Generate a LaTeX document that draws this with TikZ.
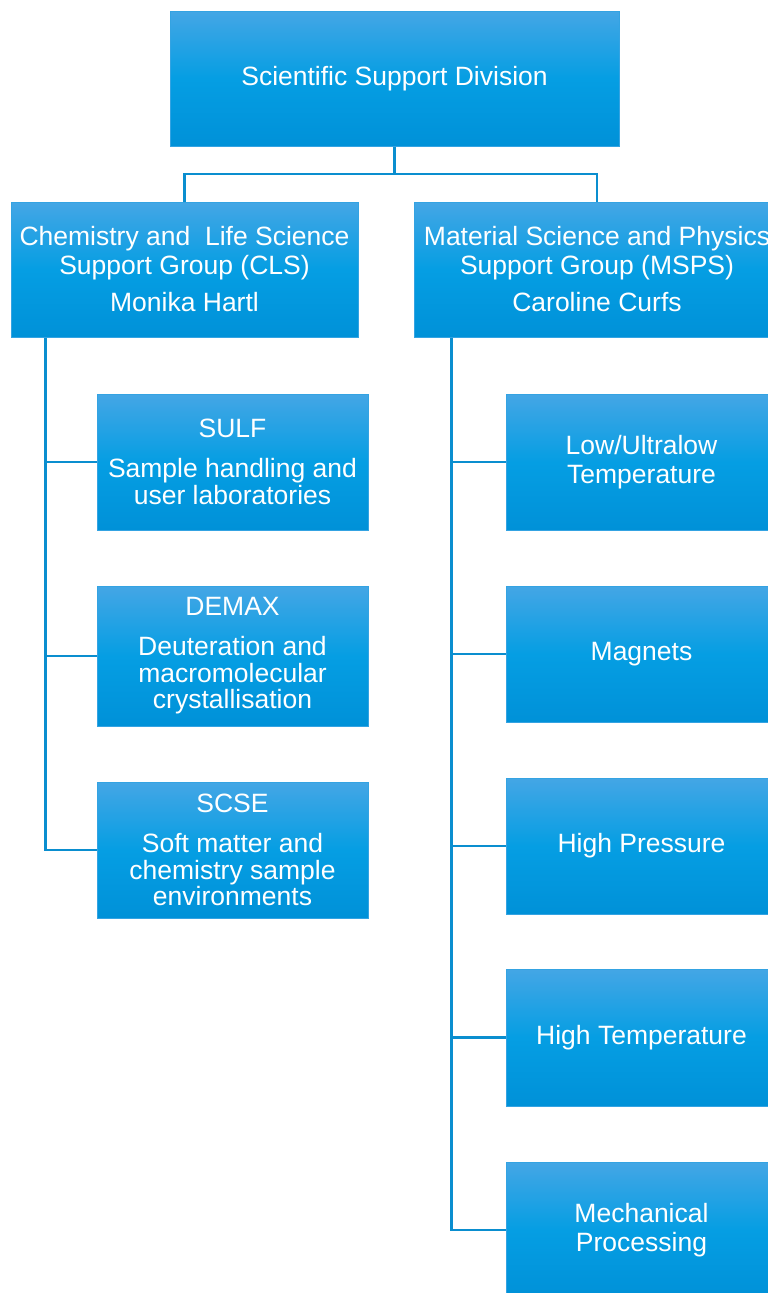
\documentclass[tikz,border=0pt]{standalone}
\usepackage{fontspec}
\setmainfont{Liberation Sans}
\usetikzlibrary{positioning}
\definecolor{boxtop}{RGB}{68,166,229}
\definecolor{boxmid}{RGB}{5,158,227}
\definecolor{boxbot}{RGB}{0,145,216}
\definecolor{boxline}{RGB}{52,163,226}
\definecolor{linkblue}{RGB}{10,142,207}

\begin{document}
\begin{tikzpicture}[x=1pt,y=-1pt,
  unitbox/.style={draw=boxline,line width=1pt,top color=boxtop,bottom color=boxbot,middle color=boxmid,
    text=white,font=\fontsize{26.5}{29}\selectfont,align=center,inner sep=0pt,minimum height=135pt},
  link/.style={draw=linkblue,line width=2.5pt}]
\path[use as bounding box,clip] (0,0) rectangle (768,1293);
\node[unitbox,minimum width=449pt] (ssd) at (394.5,78.5) {Scientific Support Division};
\node[unitbox,minimum width=347pt] (cls) at (184.5,269.5) {Chemistry and\ \ Life Science\\Support Group (CLS)\\[8pt]Monika Hartl};
\node[unitbox,minimum width=366pt] (msps) at (597,269.5) {Material Science and Physics\\Support Group (MSPS)\\[8pt]Caroline Curfs};
\node[unitbox,minimum width=271pt,minimum height=136pt] (sulf) at (232.5,462) {SULF\\[11pt]Sample handling and\\[-2.5pt]user laboratories};
\node[unitbox,minimum width=271pt,minimum height=140pt] (demax) at (232.5,656) {DEMAX\\[11pt]Deuteration and\\[-2.5pt]macromolecular\\[-2.5pt]crystallisation};
\node[unitbox,minimum width=271pt,minimum height=136pt] (scse) at (232.5,850) {SCSE\\[11pt]Soft matter and\\[-2.5pt]chemistry sample\\[-2.5pt]environments};
\node[unitbox,minimum width=271pt,minimum height=136pt] (lowt) at (641.5,462) {Low/Ultralow\\Temperature};
\node[unitbox,minimum width=271pt,minimum height=136pt] (magnets) at (641.5,654) {Magnets};
\node[unitbox,minimum width=271pt,minimum height=136pt] (hpress) at (641.5,846) {High Pressure};
\node[unitbox,minimum width=271pt,minimum height=137pt] (htemp) at (641.5,1037.5) {High Temperature};
\node[unitbox,minimum width=271pt,minimum height=136pt] (mech) at (641.5,1230) {Mechanical\\Processing};
\coordinate (fork) at (394.5,174);
\coordinate (clsspine) at ([xshift=35pt]cls.south west);
\coordinate (mspsspine) at ([xshift=38pt]msps.south west);
\draw[link] (ssd.south) -- (fork);
\draw[link] (fork) -| (cls.north);
\draw[link] (fork) -| (msps.north);
\draw[link] (clsspine) |- (scse.west);
\draw[link] (clsspine |- sulf.west) -- (sulf.west);
\draw[link] (clsspine |- demax.west) -- (demax.west);
\draw[link] (mspsspine) |- (mech.west);
\draw[link] (mspsspine |- lowt.west) -- (lowt.west);
\draw[link] (mspsspine |- magnets.west) -- (magnets.west);
\draw[link] (mspsspine |- hpress.west) -- (hpress.west);
\draw[link] (mspsspine |- htemp.west) -- (htemp.west);
\end{tikzpicture}
\end{document}
